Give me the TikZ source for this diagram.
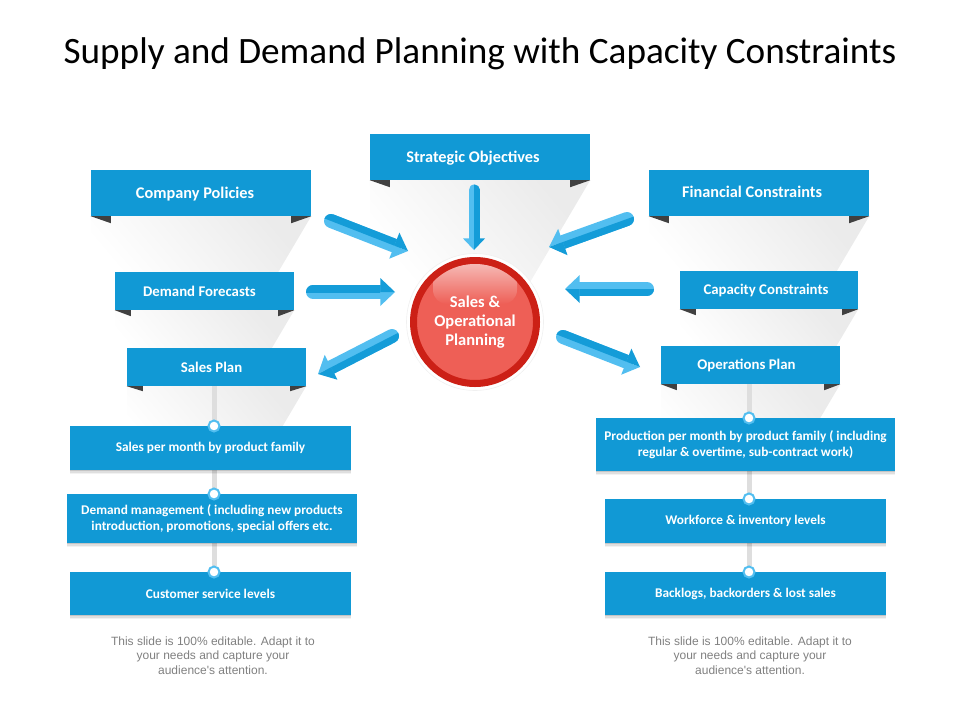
\documentclass[tikz,border=0pt]{standalone}
\usepackage{fontspec}
\setmainfont{Carlito}
\newfontfamily\notefont{Liberation Sans}
\usetikzlibrary{calc,shadows,backgrounds}
\definecolor{boxblue}{HTML}{1199D5}
\definecolor{arrowlight}{HTML}{52BEF0}
\definecolor{arrowdark}{HTML}{149CD8}
\definecolor{folddark}{HTML}{404040}
\definecolor{ringred}{HTML}{CC2016}
\definecolor{corered}{HTML}{EE5F56}
\definecolor{glossred}{HTML}{F6BDB9}
\tikzset{
    banner/.style={fill=boxblue, text=white, inner sep=0pt, align=center,
        text height=13pt, text depth=3pt,
        font=\fontsize{16.3}{18}\selectfont\bfseries},
    smallbanner/.style={banner, minimum height=38pt, text height=12pt, text depth=3pt,
        font=\fontsize{14.8}{16}\selectfont\bfseries},
    bluebox/.style={fill=boxblue, text=white, inner sep=0pt, align=center,
        font=\fontsize{13.3}{16}\selectfont\bfseries,
        drop shadow={shadow xshift=0pt, shadow yshift=-3.5pt, opacity=.05, fill=black},
        drop shadow={shadow xshift=0pt, shadow yshift=-2.5pt, opacity=.08, fill=black},
        drop shadow={shadow xshift=0pt, shadow yshift=-1pt, opacity=.12, fill=black}},
    stem/.style={line width=5pt, draw=black!13},
    knot/.style={circle, fill=white, draw=arrowlight, line width=2pt, minimum size=11pt, inner sep=0pt},
    slidenote/.style={text=black!50, align=center, inner sep=0pt,
        font=\notefont\fontsize{12}{14.4}\selectfont},
}
% two-tone arrow: from, to, half width of the shaft
\newcommand{\fatarrow}[3]{
    \coordinate (nk) at ($(#2)!2.1*#3!(#1)$);
    \coordinate (tb) at ($(#1)!-12pt!(#2)$);
    \draw[arrowlight, line width=2*#3, line cap=round] (#1) -- (nk);
    \begin{scope}
        \clip (tb) -- ($(tb)!12pt!90:(#2)$) -- ($(nk)!12pt!90:(#2)$) -- (nk) -- cycle;
        \draw[arrowdark, line width=2*#3, line cap=round] (#1) -- (nk);
    \end{scope}
    \fill[arrowlight] (#2) -- ($(nk)!2*#3!-90:(#2)$) -- (nk) -- cycle;
    \fill[arrowdark] (#2) -- ($(nk)!2*#3!90:(#2)$) -- (nk) -- cycle;
}
\begin{document}
\begin{tikzpicture}[x=1pt, y=-1pt]
    \useasboundingbox (0,0) rectangle (960,720);
    \node[inner sep=0pt, font=\fontsize{37.2}{42}\selectfont] (title) at (480,53.5) {Supply and Demand Planning with Capacity Constraints};
    % banners
    \node[banner, minimum width=220pt, minimum height=46pt] (strategic) at (480,157) {\hspace*{-14pt}Strategic Objectives};
    \node[banner, minimum width=220pt, minimum height=46pt] (company) at (201,193) {\hspace*{-12pt}Company Policies};
    \node[banner, minimum width=220pt, minimum height=46pt] (financial) at (759,193) {\hspace*{-14pt}\raisebox{1pt}{Financial Constraints}};
    \node[smallbanner, minimum width=179pt] (demand) at (204.5,291) {\hspace*{-10pt}\raisebox{-1pt}{Demand Forecasts}};
    \node[smallbanner, minimum width=178pt] (capacity) at (769,290) {\hspace*{-6pt}Capacity Constraints};
    \node[smallbanner, minimum width=179pt] (salesplan) at (216.5,367) {\hspace*{-10pt}\raisebox{-1pt}{Sales Plan}};
    \node[smallbanner, minimum width=179pt] (opsplan) at (750.5,365) {\hspace*{-8pt}Operations Plan};
    % left column
    \node[bluebox, minimum width=281pt, minimum height=44pt] (salesmonth) at (210.5,448) {\raisebox{-1pt}{Sales per month by product family}};
    \node[bluebox, minimum width=290pt, minimum height=49pt] (demandmgmt) at (212,518.5) {Demand management ( including new products\\introduction, promotions, special offers etc.};
    \node[bluebox, minimum width=281pt, minimum height=43pt] (custservice) at (210.5,593.5) {Customer service levels};
    % right column
    \node[bluebox, minimum width=299pt, minimum height=53pt] (production) at (745.5,444.5) {Production per month by product family ( including\\regular \& overtime, sub-contract work)};
    \node[bluebox, minimum width=281pt, minimum height=44pt] (workforce) at (745.5,521) {\raisebox{-1pt}{Workforce \& inventory levels}};
    \node[bluebox, minimum width=281pt, minimum height=43pt] (backlogs) at (745.5,593.5) {\raisebox{-1pt}{Backlogs, backorders \& lost sales}};
    % knots
    \node[knot] (knotA) at (214,426) {};
    \node[knot] (knotB) at (214,494) {};
    \node[knot] (knotC) at (214,572) {};
    \node[knot] (knotD) at (749,418) {};
    \node[knot] (knotE) at (749,499) {};
    \node[knot] (knotF) at (749,572) {};
    % centre
    \node[circle, minimum size=137pt, inner sep=0pt, fill=white, draw=black!6, line width=.6pt] (halo) at (475,322) {};
    \node[circle, minimum size=123pt, inner sep=0pt, fill=corered, draw=ringred, line width=7pt] (core) at (475,322) {};
    \begin{scope}
        \clip (475,322) circle (58pt);
        \shade[top color=glossred, bottom color=corered, rounded corners=14pt] (433,262) rectangle (517,304);
    \end{scope}
    \node[text=white, align=center, inner sep=0pt, font=\fontsize{16.5}{19}\selectfont\bfseries] (splan) at (475,322) {Sales \&\\Operational\\Planning};
    % notes
    \node[slidenote] (noteL) at (213,655.5) {This slide is 100\% editable. Adapt it to\\your needs and capture your\\audience's attention.};
    \node[slidenote] (noteR) at (750,655.5) {This slide is 100\% editable. Adapt it to\\your needs and capture your\\audience's attention.};
    % ribbon folds and soft shadows
    \foreach \nm/\fw/\fh/\dep in {strategic/20/7/105, company/20/7/70, financial/20/7/70, demand/16/6/60, capacity/16/6/60, salesplan/16/5/75, opsplan/16/6/80} {
        \fill[folddark] (\nm.south west) -- ++(\fw,0) -- ++(0,\fh) -- cycle;
        \fill[folddark] (\nm.south east) -- ++(-\fw,0) -- ++(0,\fh) -- cycle;
        \begin{pgfonlayer}{background}
            \shade[top color=black!8, bottom color=white, shading angle=-50]
                (\nm.south west) -- (\nm.south east) -- ++({-0.59*\dep},\dep) -| (\nm.south west);
        \end{pgfonlayer}
    }
    % stems
    \begin{pgfonlayer}{background}
        \draw[stem] (knotA |- salesplan.south) -- (knotC);
        \draw[stem] (knotD |- opsplan.south) -- (knotF);
    \end{pgfonlayer}
    % arrows
    \coordinate (a1s) at (331,221); \coordinate (a1e) at (408,251);
    \coordinate (a2s) at (313,292); \coordinate (a2e) at (395,292);
    \coordinate (a3s) at (392,336); \coordinate (a3e) at (318,374);
    \coordinate (a4s) at (474,190); \coordinate (a4e) at (474,250);
    \coordinate (a5s) at (627,219); \coordinate (a5e) at (549,247);
    \coordinate (a6s) at (647,289); \coordinate (a6e) at (565,289);
    \coordinate (a7s) at (563,337); \coordinate (a7e) at (640,367);
    \fatarrow{a1s}{a1e}{7pt}
    \fatarrow{a2s}{a2e}{7pt}
    \fatarrow{a3s}{a3e}{7pt}
    \fatarrow{a4s}{a4e}{5.5pt}
    \fatarrow{a5s}{a5e}{7pt}
    \fatarrow{a6s}{a6e}{7pt}
    \fatarrow{a7s}{a7e}{7pt}
\end{tikzpicture}
\end{document}
